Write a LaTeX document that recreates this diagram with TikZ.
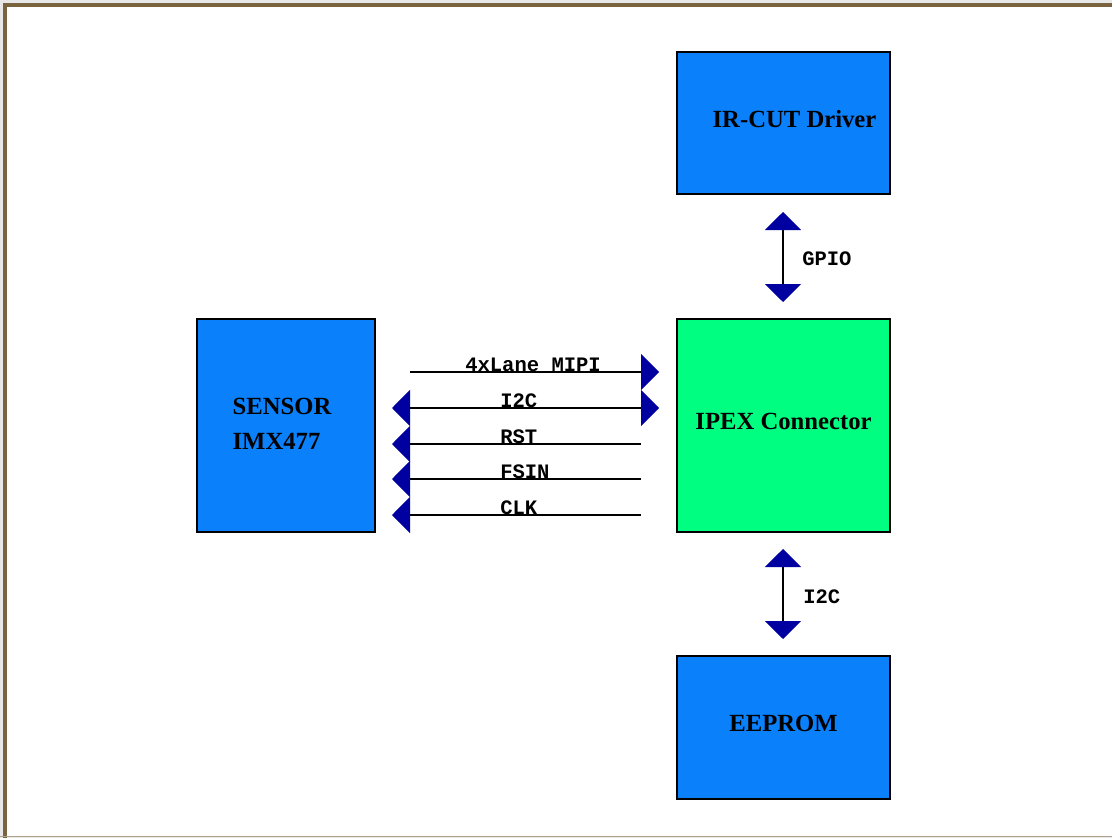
\documentclass[tikz,border=0pt]{standalone}
\usepackage{fontspec}
\setmainfont{Liberation Serif}
\setmonofont{Liberation Mono}
\usepackage{xcolor}
\usetikzlibrary{positioning,calc,arrows.meta}

\definecolor{boxblue}{RGB}{10,128,250}
\definecolor{boxgreen}{RGB}{0,255,128}
\definecolor{tipblue}{RGB}{0,0,160}
\definecolor{framebrown}{RGB}{122,100,64}

\tikzset{
    block/.style={draw=black, line width=0.9pt, fill=boxblue, inner sep=0pt,
        font=\bfseries\fontsize{18.5}{25.5}\selectfont},
    onetext/.style={text height=12.5pt, text depth=6pt},
    sig/.style={line width=0.9pt},
    siglabel/.style={inner sep=0pt, font=\ttfamily\bfseries\fontsize{15.4}{18}\selectfont},
    bigtip/.tip={Triangle[length=13.5pt, width=27pt, color=tipblue]}
}

\begin{document}
\begin{tikzpicture}[x=0.75pt, y=-0.75pt]
    % Page and frame
    \useasboundingbox (0,0) rectangle (1112,838);
    \fill[gray!18] (0,0) rectangle (1112,838);
    \fill[white] (5,5) rectangle (1112,836);
    \draw[framebrown, line width=2.4pt] (5,838) -- (5,5) -- (1112,5);
    \draw[framebrown!60, line width=0.8pt] (0,836.5) -- (1112,836.5);

    % Blocks
    \node[block, onetext, minimum width=159.75pt, minimum height=106.5pt] (ircut) at (783.5,123) {\hspace*{16.5pt}IR-CUT Driver};
    \node[block, onetext, fill=boxgreen, minimum width=159.75pt, minimum height=159.75pt] (ipex) at (783.5,425.5) {IPEX Connector};
    \node[block, minimum width=133.5pt, minimum height=159.75pt] (sensor) at (286,425.5)
        {\hspace*{-6pt}\raisebox{3pt}{\begin{tabular}{@{}l@{}}SENSOR\\[0.8pt]IMX477\end{tabular}}};
    \node[block, onetext, minimum width=159.75pt, minimum height=107.25pt] (eeprom) at (783.5,727.5) {EEPROM};

    % Signal ends between sensor and connector
    \coordinate (mipiA) at (410,372);  \coordinate (mipiB) at (659,372);
    \coordinate (iicA) at (392,408);   \coordinate (iicB) at (659,408);
    \coordinate (rstA) at (392,444);   \coordinate (rstB) at (641,444);
    \coordinate (fsinA) at (392,479);  \coordinate (fsinB) at (641,479);
    \coordinate (clkA) at (392,515);   \coordinate (clkB) at (641,515);

    \draw[sig, -bigtip] (mipiA) -- (mipiB);
    \draw[sig, bigtip-bigtip] (iicA) -- (iicB);
    \draw[sig, bigtip-] (rstA) -- (rstB);
    \draw[sig, bigtip-] (fsinA) -- (fsinB);
    \draw[sig, bigtip-] (clkA) -- (clkB);

    \node[siglabel, anchor=base west] (mipiL) at (465,371) {4xLane MIPI};
    \node[siglabel, anchor=base west] (iicL) at (500,407) {I2C};
    \node[siglabel, anchor=base west] (rstL) at (500,443) {RST};
    \node[siglabel, anchor=base west] (fsinL) at (500,478) {FSIN};
    \node[siglabel, anchor=base west] (clkL) at (500,514) {CLK};

    % Vertical links
    \coordinate (gpioA) at (783,212);  \coordinate (gpioB) at (783,302);
    \coordinate (romA) at (783,549);   \coordinate (romB) at (783,639);
    \draw[sig, bigtip-bigtip] (gpioA) -- (gpioB);
    \draw[sig, bigtip-bigtip] (romA) -- (romB);
    \node[siglabel, anchor=west] (gpioL) at (802,259) {GPIO};
    \node[siglabel, anchor=west] (romL) at (803,597) {I2C};
\end{tikzpicture}
\end{document}
